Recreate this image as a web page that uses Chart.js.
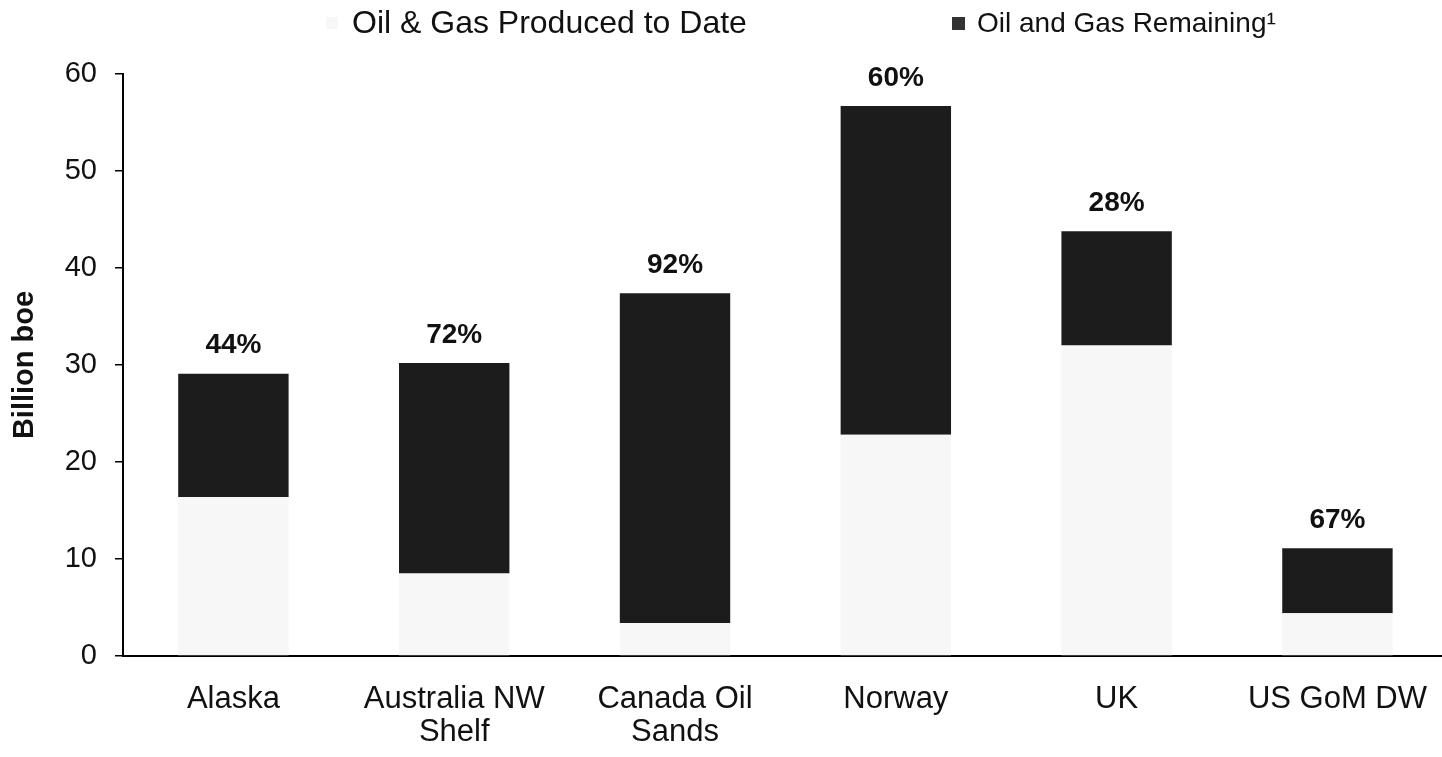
<!DOCTYPE html>
<html>
<head>
<meta charset="utf-8">
<title>Oil &amp; Gas Resources by Region</title>
<script src="https://cdn.jsdelivr.net/npm/chart.js@4.4.1/dist/chart.umd.min.js"></script>
<style>
  html, body { margin: 0; padding: 0; background: #ffffff; overflow: hidden; }
  /* the plot runs slightly past the right edge of the window */
  #wrap { width: 1454px; height: 757px; position: relative; }
</style>
</head>
<body>
<div id="wrap"><canvas id="chart"></canvas></div>
<script>
// Regions (multi-line category labels)
const regions = [['Alaska'], ['Australia NW', 'Shelf'], ['Canada Oil', 'Sands'], ['Norway'], ['UK'], ['US GoM DW']];
// Billion boe already produced (lower, pale segment)
const producedToDate = [16.4, 8.5, 3.4, 22.8, 32.0, 4.4];
// Billion boe remaining (upper, dark segment)
const remaining = [12.7, 21.7, 34.0, 33.9, 11.8, 6.7];
// Share of the total still remaining, printed above each bar
const remainingShare = ['44%', '72%', '92%', '60%', '28%', '67%'];
// Value axis ticks
const yTicks = [0, 10, 20, 30, 40, 50, 60];

const seriesNames = ['Oil & Gas Produced to Date', 'Oil and Gas Remaining\u00B9'];
const producedColor = '#f7f7f7';
const remainingColor = '#1c1c1c';
const FONT = '"Liberation Sans", Arial, Helvetica, sans-serif';

// Percent labels above the stacked bars
const shareLabels = {
  id: 'shareLabels',
  afterDatasetsDraw(chart) {
    const ctx = chart.ctx;
    const meta = chart.getDatasetMeta(1);
    ctx.save();
    ctx.font = 'bold 28px ' + FONT;
    ctx.fillStyle = '#111';
    ctx.textAlign = 'center';
    ctx.textBaseline = 'middle';
    meta.data.forEach((bar, i) => {
      ctx.fillText(remainingShare[i], bar.x, bar.y - 28);
    });
    ctx.restore();
  }
};

// Two-item legend across the top
const topLegend = {
  id: 'topLegend',
  afterDraw(chart) {
    const ctx = chart.ctx;
    ctx.save();
    ctx.textBaseline = 'middle';
    ctx.fillStyle = producedColor;
    ctx.fillRect(326, 17, 12, 12);
    ctx.font = '32px ' + FONT;
    ctx.fillStyle = '#111';
    ctx.fillText(seriesNames[0], 352, 24);
    ctx.fillStyle = '#333';
    ctx.fillRect(952, 17, 13, 13);
    ctx.font = '28px ' + FONT;
    ctx.fillStyle = '#111';
    ctx.fillText(seriesNames[1], 977, 24);
    ctx.restore();
  }
};

new Chart(document.getElementById('chart'), {
  type: 'bar',
  data: {
    labels: regions,
    datasets: [
      { label: seriesNames[0], data: producedToDate, backgroundColor: producedColor, borderWidth: 0 },
      { label: seriesNames[1], data: remaining, backgroundColor: remainingColor, borderWidth: 0 }
    ]
  },
  options: {
    responsive: true,
    maintainAspectRatio: false,
    animation: false,
    barPercentage: 0.5,
    categoryPercentage: 1.0,
    layout: { padding: { top: 74, right: 0, bottom: 6, left: 0 } },
    plugins: {
      legend: { display: false },
      tooltip: { enabled: false }
    },
    scales: {
      x: {
        stacked: true,
        grid: { display: false, drawTicks: false },
        border: { display: true, color: '#000', width: 2 },
        ticks: {
          color: '#111',
          padding: 27,
          maxRotation: 0,
          autoSkip: false,
          font: { family: FONT, size: 31, lineHeight: 1.06 }
        },
        afterFit(scale) { scale.height = 95; }
      },
      y: {
        stacked: true,
        min: 0,
        max: 60,
        afterBuildTicks(scale) { scale.ticks = yTicks.map(v => ({ value: v })); },
        grid: { display: true, drawOnChartArea: false, drawTicks: true, tickLength: 8, color: '#000', lineWidth: 1.5 },
        border: { display: true, color: '#000', width: 2 },
        ticks: {
          color: '#111',
          padding: 18,
          font: { family: FONT, size: 29 }
        },
        title: {
          display: true,
          text: 'Billion boe',
          color: '#111',
          padding: { top: 8, bottom: 0 },
          font: { family: FONT, size: 29, weight: 'bold' }
        },
        afterFit(scale) { scale.width = 123; }
      }
    }
  },
  plugins: [shareLabels, topLegend]
});
</script>
</body>
</html>
